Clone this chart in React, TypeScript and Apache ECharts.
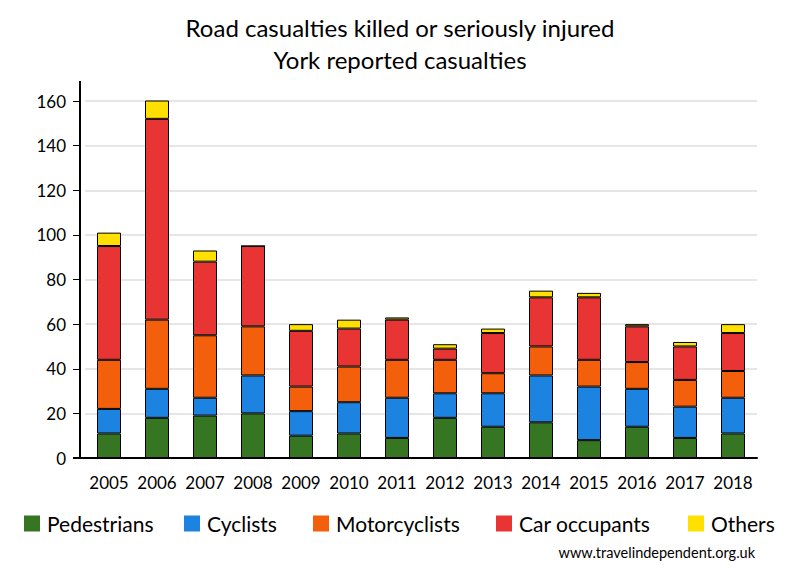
import React, { useEffect, useRef } from "react";
import * as echarts from "echarts";

const years = ["2005", "2006", "2007", "2008", "2009", "2010", "2011", "2012", "2013", "2014", "2015", "2016", "2017", "2018"];
const pedestrians = [11, 18, 19, 20, 10, 11, 9, 18, 14, 16, 8, 14, 9, 11];
const cyclists = [11, 13, 8, 17, 11, 14, 18, 11, 15, 21, 24, 17, 14, 16];
const motorcyclists = [22, 31, 28, 22, 11, 16, 17, 15, 9, 13, 12, 12, 12, 12];
const carOccupants = [51, 90, 33, 36, 25, 17, 18, 5, 18, 22, 28, 16, 15, 17];
const others = [6, 9, 5, 0, 3, 4, 1, 2, 2, 3, 2, 1, 2, 4];

const seriesDefs = [
  { name: "Pedestrians", data: pedestrians, color: "#367622" },
  { name: "Cyclists", data: cyclists, color: "#1C83E1" },
  { name: "Motorcyclists", data: motorcyclists, color: "#F45F0B" },
  { name: "Car occupants", data: carOccupants, color: "#E93434" },
  { name: "Others", data: others, color: "#FFE000" },
];
const legendLefts = [24, 184, 313, 496, 688];

const FONT = "Lato";

export default function App() {
  const ref = useRef<HTMLDivElement>(null);
  useEffect(() => {
    if (!ref.current) return;
    const chart = echarts.init(ref.current, null, { renderer: "svg" });
    chart.setOption({
      animation: false,
      backgroundColor: "#fff",
      textStyle: { fontFamily: FONT },
      title: {
        text: "Road casualties killed or seriously injured\nYork reported casualties",
        left: "center",
        top: 6,
        textStyle: { fontFamily: FONT, fontSize: 24, fontWeight: "normal", color: "#000", lineHeight: 32 },
      },
      legend: seriesDefs.map((s, i) => ({
        left: legendLefts[i],
        top: 513,
        padding: 0,
        icon: "rect",
        itemWidth: 16,
        itemHeight: 16,
        itemStyle: { borderWidth: 0 },
        textStyle: { fontFamily: FONT, fontSize: 21, color: "#000", padding: [0, 0, 0, 2] },
        data: [s.name],
      })),
      grid: { left: 85, right: 43, top: 101, bottom: 122, containLabel: false },
      xAxis: {
        type: "category",
        data: years,
        axisTick: { show: false },
        axisLine: { lineStyle: { color: "#000", width: 2 } },
        axisLabel: { color: "#000", fontFamily: FONT, fontSize: 17, margin: 16, interval: 0 },
        z: 5,
      },
      yAxis: {
        type: "value",
        min: 0,
        max: 160,
        interval: 20,
        offset: 5,
        axisLine: { show: true, lineStyle: { color: "#000", width: 2 } },
        axisTick: { show: true, length: 7, lineStyle: { color: "#000", width: 1 } },
        axisLabel: { color: "#000", fontFamily: FONT, fontSize: 17, margin: 14 },
        splitLine: { lineStyle: { color: "#E6E6E6", width: 2 } },
      },
      graphic: [
        { type: "line", shape: { x1: 80, y1: 81, x2: 80, y2: 102 }, style: { stroke: "#000", lineWidth: 2 }, z: 10 },
        { type: "line", shape: { x1: 73, y1: 458, x2: 86, y2: 458 }, style: { stroke: "#000", lineWidth: 2 }, z: 10 },
        {
          type: "text",
          x: 755,
          y: 545,
          style: { text: "www.travelindependent.org.uk", fontFamily: FONT, fontSize: 14.5, fill: "#000", textAlign: "right" },
        },
      ],
      series: seriesDefs.map((s) => ({
        name: s.name,
        type: "bar",
        stack: "total",
        barWidth: 24,
        data: s.data,
        itemStyle: { color: s.color, borderColor: "#000", borderWidth: 1 },
      })),
    });
    return () => chart.dispose();
  }, []);
  return <div ref={ref} style={{ position: "fixed", left: 0, top: 0, width: 800, height: 580 }} />;
}
